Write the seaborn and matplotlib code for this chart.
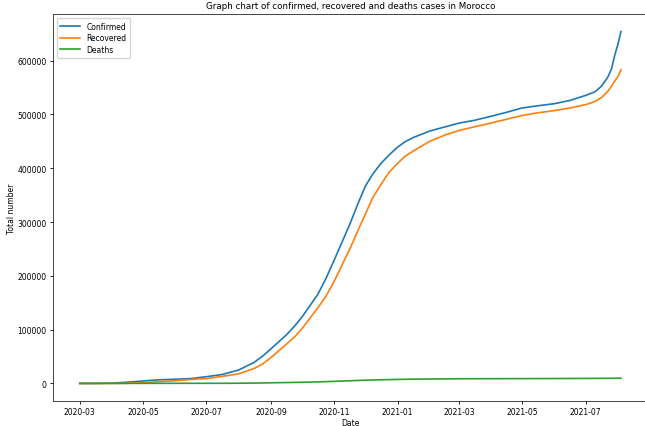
import pandas as pd
import seaborn as sns
import matplotlib.pyplot as plt
import matplotlib.dates as mdates

dates = ["2020-03-01", "2020-03-16", "2020-04-01", "2020-04-16", "2020-05-01", "2020-05-16",
         "2020-06-01", "2020-06-16", "2020-07-01", "2020-07-16", "2020-08-01", "2020-08-16",
         "2020-08-24", "2020-09-01", "2020-09-16", "2020-09-24", "2020-10-01", "2020-10-16",
         "2020-10-24", "2020-11-01", "2020-11-16", "2020-11-24", "2020-12-01", "2020-12-08",
         "2020-12-16", "2020-12-24", "2021-01-01", "2021-01-08", "2021-01-16", "2021-02-01",
         "2021-02-16", "2021-03-01", "2021-03-16", "2021-04-01", "2021-04-16", "2021-05-01",
         "2021-05-16", "2021-06-01", "2021-06-16", "2021-07-01", "2021-07-10", "2021-07-16",
         "2021-07-22", "2021-07-26", "2021-07-29", "2021-08-01", "2021-08-04"]

confirmed = [0, 28, 654, 2283, 4569, 6741, 7780, 9074, 12533, 16545, 25015, 39241,
             50812, 64255, 90324, 107000, 123653, 165000, 195000, 229565, 296000, 335000,
             366879, 389000, 409000, 425000, 439193, 449000, 457000, 469139, 477000, 483766,
             489000, 496538, 504000, 512000, 516000, 519949, 526000, 535273, 542000, 552000,
             568000, 585000, 610000, 630000, 654000]

recovered = [0, 1, 11, 217, 984, 3400, 5000, 7400, 8900, 13100, 17700, 28000,
             36000, 48000, 73000, 87000, 102000, 140000, 162000, 190000, 250000, 285000,
             315000, 345000, 370000, 393000, 409000, 422000, 432000, 450000, 462000, 470000,
             477000, 484000, 491000, 498000, 503000, 507000, 512000, 518000, 524000, 531000,
             542000, 553000, 562000, 570000, 583000]

deaths = [0, 0, 36, 126, 171, 190, 206, 214, 228, 255, 382, 673,
          893, 1191, 1648, 1900, 2171, 2821, 3300, 3844, 5000, 5530,
          6024, 6450, 6830, 7100, 7427, 7700, 7900, 8236, 8450, 8634,
          8720, 8813, 8880, 8950, 9010, 9100, 9180, 9300, 9400, 9460,
          9520, 9580, 9630, 9680, 9700]

df = pd.DataFrame({"Date": pd.to_datetime(dates),
                   "Confirmed": confirmed,
                   "Recovered": recovered,
                   "Deaths": deaths})
long_df = df.melt(id_vars="Date", var_name="Case", value_name="Total number")

fig = plt.figure(figsize=(6.45, 4.27), dpi=100)
ax = fig.add_axes([0.0817, 0.0585, 0.923, 0.9065])
sns.lineplot(data=long_df, x="Date", y="Total number", hue="Case", ax=ax, linewidth=1.2)

ax.xaxis.set_major_locator(mdates.MonthLocator(bymonth=[1, 3, 5, 7, 9, 11]))
ax.xaxis.set_major_formatter(mdates.DateFormatter("%Y-%m"))
ax.tick_params(labelsize=5.5, length=2.5, width=0.6, pad=2)
for s in ax.spines.values():
    s.set_linewidth(0.7)
    s.set_color("#444444")

ax.set_title("Graph chart of confirmed, recovered and deaths cases in Morocco", fontsize=6.3, pad=4)
ax.set_xlabel("Date", fontsize=5.5, labelpad=1)
ax.set_ylabel("Total number", fontsize=5.5, labelpad=1)
ax.legend(loc="upper left", fontsize=5.5, handlelength=2.6, borderpad=0.5, labelspacing=0.35)

fig.savefig("out.png", dpi=100)
